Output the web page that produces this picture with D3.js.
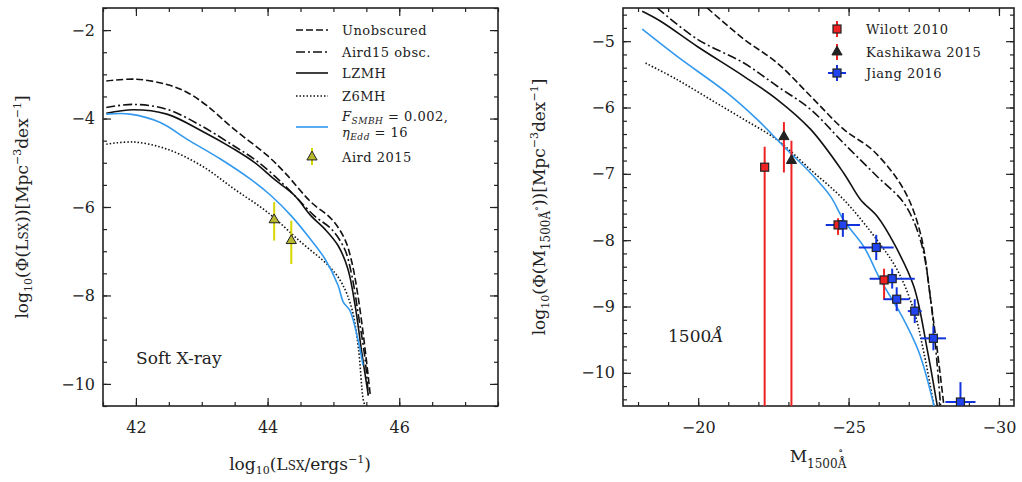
<!DOCTYPE html>
<html>
<head>
<script src="https://d3js.org/d3.v7.min.js"></script>
<style>
  body { margin: 0; background: #fff; }
  text { font-family: "DejaVu Serif", serif; fill: #222; }
  .tick text { font-size: 16px; }
  .leg { font-size: 13px; letter-spacing: 0.5px; }
</style>
</head>
<body>
<svg id="chart" width="1022" height="482"></svg>
<script>
// ---- left panel: soft X-ray LF ----
const sxUnobs = [[41.55,-3.15],[42.0,-3.11],[42.47,-3.23],[42.78,-3.41],[43.08,-3.71],[43.49,-4.24],[44.0,-4.84],[44.26,-5.22],[44.66,-5.89],[44.97,-6.27],[45.17,-6.72],[45.28,-7.25],[45.38,-8.08],[45.48,-9.2],[45.56,-10.26]];
const sxAird = [[41.55,-3.75],[41.96,-3.68],[42.47,-3.79],[43.0,-4.17],[43.49,-4.62],[43.8,-4.92],[44.1,-5.29],[44.41,-5.74],[44.71,-6.2],[44.97,-6.5],[45.17,-6.95],[45.28,-7.55],[45.38,-8.45],[45.48,-9.43],[45.53,-10.26]];
const sxLZMH = [[41.55,-3.88],[41.96,-3.8],[42.47,-3.9],[43.0,-4.28],[43.49,-4.69],[43.8,-4.99],[44.1,-5.37],[44.41,-5.74],[44.66,-6.2],[44.87,-6.5],[45.07,-6.87],[45.22,-7.4],[45.33,-8.23],[45.43,-9.28],[45.53,-10.26]];
const sxZ6MH = [[41.55,-4.58],[41.96,-4.53],[42.47,-4.69],[43.0,-5.07],[43.49,-5.59],[44.0,-6.12],[44.51,-6.8],[44.92,-7.32],[45.12,-7.7],[45.28,-8.3],[45.38,-9.2],[45.45,-10.33],[45.48,-10.5]];
const sxBlue = [[41.55,-3.9],[41.91,-3.9],[42.37,-4.09],[42.78,-4.47],[43.29,-4.92],[43.74,-5.37],[44.05,-5.74],[44.36,-6.2],[44.61,-6.65],[44.87,-7.17],[45.07,-7.77],[45.15,-8.15],[45.25,-8.34],[45.38,-9.05],[45.45,-9.58]];
// Aird 2015 points: x, y, yLow, yHigh
const aird15 = [[44.1,-6.29,-6.76,-5.89],[44.36,-6.76,-7.29,-6.31]];

// ---- right panel: 1500A LF ----
const uvUnobs = [[-20.3,-4.5],[-21.52,-4.97],[-22.63,-5.33],[-23.74,-5.83],[-24.84,-6.33],[-25.84,-6.66],[-26.84,-7.24],[-27.39,-7.9],[-27.73,-8.9],[-27.95,-9.66],[-28.17,-10.5]];
const uvAird = [[-18.64,-4.5],[-19.97,-4.97],[-21.52,-5.33],[-22.63,-5.68],[-23.74,-6.03],[-24.84,-6.54],[-25.95,-7.04],[-26.84,-7.44],[-27.39,-8.0],[-27.73,-8.9],[-28.06,-10.5]];
const uvLZMH = [[-18.14,-4.55],[-18.75,-4.7],[-19.97,-5.08],[-21.52,-5.53],[-22.63,-5.88],[-23.74,-6.33],[-24.84,-6.99],[-25.4,-7.39],[-25.95,-7.64],[-26.51,-8.05],[-27.17,-8.7],[-27.62,-9.66],[-27.95,-10.5]];
const uvZ6MH = [[-18.25,-5.33],[-19.3,-5.58],[-20.41,-5.88],[-21.52,-6.18],[-22.63,-6.49],[-23.74,-6.94],[-24.84,-7.39],[-25.95,-8.0],[-26.62,-8.45],[-27.17,-9.06],[-27.51,-9.71],[-27.84,-10.5]];
const uvBlue = [[-18.14,-4.82],[-19.3,-5.23],[-20.96,-5.78],[-21.96,-6.18],[-22.85,-6.59],[-23.74,-6.99],[-24.4,-7.34],[-24.84,-7.7],[-25.51,-8.1],[-26.06,-8.6],[-26.73,-9.11],[-27.34,-9.69],[-27.84,-10.5]];
// x, y, yLow, yHigh
const willott = [[-22.21,-6.9,-11,-6.59],[-24.65,-7.77,-7.92,-7.67],[-26.18,-8.6,-8.9,-8.43]];
const kashikawa = [[-22.85,-6.44,-6.98,-6.22],[-23.1,-6.8,-11,-6.5]];
// x, y, xErr, yLow, yHigh
const jiang = [[-24.81,-7.77,0.57,-7.95,-7.59],[-25.92,-8.11,0.58,-8.3,-7.92],[-26.45,-8.58,0.75,-8.73,-8.43],[-26.6,-8.89,0.43,-9.07,-8.71],[-27.2,-9.07,0.23,-9.25,-8.89],[-27.82,-9.48,0.42,-9.66,-9.3],[-28.72,-10.44,0.5,-10.6,-10.14]];

const svg = d3.select("#chart");
const blue = "#3399ee";
const styles = {
  unobs: "7,3", aird: "9,3,2,3", lzmh: null, z6mh: "1.5,2"
};

function panel(opt) {
  const x = d3.scaleLinear().domain(opt.xDom).range([opt.left, opt.right]);
  const y = d3.scaleLinear().domain(opt.yDom).range([406, 8]);
  const g = svg.append("g");
  const clipId = "clip" + opt.id;
  svg.append("clipPath").attr("id", clipId).append("rect")
    .attr("x", opt.left).attr("y", 8).attr("width", opt.right - opt.left).attr("height", 398);

  // axes with inward ticks
  const h = 398, w = opt.right - opt.left;
  function addX(transY, dir, labels) {
    const ax = d3.axisBottom(x).tickValues(opt.xTicks).tickSize(-dir * 8).tickPadding(16)
      .tickFormat(labels ? d => d3.format("d")(d).replace("-", "\u2212") : "");
    const mx = d3.axisBottom(x).tickValues(opt.xMinor).tickSize(-dir * 4).tickFormat("");
    g.append("g").attr("transform", `translate(0,${transY})`).call(ax).call(a => a.select(".domain").remove());
    g.append("g").attr("transform", `translate(0,${transY})`).call(mx).call(a => a.select(".domain").remove());
  }
  function addY(transX, dir, labels) {
    const ay = d3.axisLeft(y).tickValues(opt.yTicks).tickSize(-dir * 8).tickPadding(8)
      .tickFormat(labels ? d => d3.format("d")(d).replace("-", "\u2212") : "");
    const my = d3.axisLeft(y).tickValues(opt.yMinor).tickSize(-dir * 4).tickFormat("");
    g.append("g").attr("transform", `translate(${transX},0)`).call(ay).call(a => a.select(".domain").remove());
    g.append("g").attr("transform", `translate(${transX},0)`).call(my).call(a => a.select(".domain").remove());
  }
  addX(406, 1, true); addX(8, -1, false);
  addY(opt.left, 1, true); addY(opt.right, -1, false);
  g.selectAll(".tick line").attr("stroke", "#222").attr("stroke-width", 1.2);
  g.selectAll(".tick text").attr("fill", "#222");
  g.append("rect").attr("x", opt.left).attr("y", 8).attr("width", w).attr("height", h)
    .attr("fill", "none").attr("stroke", "#222").attr("stroke-width", 1.6);

  const lines = svg.append("g").attr("clip-path", `url(#${clipId})`);
  opt.curves.forEach(c => {
    lines.append("path").datum(c.data).attr("d", d3.line().x(d => x(d[0])).y(d => y(d[1])).curve(d3.curveCatmullRom))
      .attr("fill", "none").attr("stroke", c.color || "#111").attr("stroke-width", 1.6)
      .attr("stroke-dasharray", c.dash);
  });
  return { x, y, g, lines };
}

// ---- left ----
const L = panel({
  id: "L", left: 103, right: 498, xDom: [41.5, 47.5], yDom: [-10.5, -1.5],
  xTicks: [42, 44, 46], xMinor: d3.range(41.5, 47.51, 0.5),
  yTicks: [-10, -8, -6, -4, -2], yMinor: d3.range(-10.5, -1.49, 0.5),
  curves: [
    { data: sxUnobs, dash: styles.unobs }, { data: sxAird, dash: styles.aird },
    { data: sxLZMH, dash: null }, { data: sxZ6MH, dash: styles.z6mh },
    { data: sxBlue, dash: null, color: blue }
  ]
});
function triangle(sel, cx, cy, fill) {
  sel.append("path").attr("d", d3.symbol(d3.symbolTriangle, 45)())
    .attr("transform", `translate(${cx},${cy})`).attr("fill", fill).attr("stroke", "#222").attr("stroke-width", 1);
}
aird15.forEach(d => {
  L.lines.append("line").attr("x1", L.x(d[0])).attr("x2", L.x(d[0])).attr("y1", L.y(d[2])).attr("y2", L.y(d[3]))
    .attr("stroke", "#d6d600").attr("stroke-width", 2);
  triangle(L.lines, L.x(d[0]), L.y(d[1]), "#b8b830");
});

// left legend
const legL = svg.append("g");
const legRows = [["Unobscured", styles.unobs, 30], ["Aird15 obsc.", styles.aird, 52], ["LZMH", null, 73], ["Z6MH", styles.z6mh, 96]];
legRows.forEach(r => {
  legL.append("line").attr("x1", 296).attr("x2", 328).attr("y1", r[2]).attr("y2", r[2])
    .attr("stroke", "#111").attr("stroke-width", 1.6).attr("stroke-dasharray", r[1]);
  legL.append("text").attr("class", "leg").attr("x", 342).attr("y", r[2] + 5).text(r[0]);
});
legL.append("line").attr("x1", 296).attr("x2", 328).attr("y1", 127).attr("y2", 127).attr("stroke", blue).attr("stroke-width", 1.6);
const t1 = legL.append("text").attr("class", "leg").attr("x", 342).attr("y", 121);
t1.append("tspan").attr("font-style", "italic").text("F");
t1.append("tspan").attr("font-style", "italic").attr("font-size", 9).attr("dy", 3).text("SMBH");
t1.append("tspan").attr("dy", -3).text(" = 0.002,");
const t2 = legL.append("text").attr("class", "leg").attr("x", 342).attr("y", 137);
t2.append("tspan").attr("font-style", "italic").text("η");
t2.append("tspan").attr("font-style", "italic").attr("font-size", 9).attr("dy", 3).text("Edd");
t2.append("tspan").attr("dy", -3).text(" = 16");
legL.append("line").attr("x1", 312).attr("x2", 312).attr("y1", 148).attr("y2", 165).attr("stroke", "#d6d600").attr("stroke-width", 2);
triangle(legL, 312, 157, "#b8b830");
legL.append("text").attr("class", "leg").attr("x", 342).attr("y", 162).text("Aird 2015");

svg.append("text").attr("x", 136).attr("y", 364).attr("font-size", 17).text("Soft X-ray");
const xl = svg.append("text").attr("x", 300).attr("y", 470).attr("text-anchor", "middle").attr("font-size", 17);
xl.append("tspan").text("log");
xl.append("tspan").attr("font-size", 11).attr("dy", 4).text("10");
xl.append("tspan").attr("dy", -4).text("(L");
xl.append("tspan").attr("font-size", 12).text("SX");
xl.append("tspan").text("/ergs");
xl.append("tspan").attr("font-size", 11).attr("dy", -7).text("−1");
xl.append("tspan").attr("dy", 7).text(")");
const yl = svg.append("text").attr("transform", "translate(28,207) rotate(-90)").attr("text-anchor", "middle").attr("font-size", 17);
yl.append("tspan").text("log");
yl.append("tspan").attr("font-size", 11).attr("dy", 4).text("10");
yl.append("tspan").attr("dy", -4).text("(Φ(L");
yl.append("tspan").attr("font-size", 12).text("SX");
yl.append("tspan").text("))[Mpc");
yl.append("tspan").attr("font-size", 11).attr("dy", -7).text("−3");
yl.append("tspan").attr("dy", 7).text("dex");
yl.append("tspan").attr("font-size", 11).attr("dy", -7).text("−1");
yl.append("tspan").attr("dy", 7).text("]");

// ---- right ----
const R = panel({
  id: "R", left: 623, right: 1014, xDom: [-17.5, -30.5], yDom: [-10.5, -4.5],
  xTicks: [-20, -25, -30], xMinor: d3.range(-18, -30.5, -1),
  yTicks: [-10, -9, -8, -7, -6, -5], yMinor: d3.range(-10.4, -4.5, 0.2),
  curves: [
    { data: uvUnobs, dash: styles.unobs }, { data: uvAird, dash: styles.aird },
    { data: uvLZMH, dash: null }, { data: uvZ6MH, dash: styles.z6mh },
    { data: uvBlue, dash: null, color: blue }
  ]
});
function square(sel, cx, cy, fill) {
  sel.append("rect").attr("x", cx - 4).attr("y", cy - 4).attr("width", 8).attr("height", 8)
    .attr("fill", fill).attr("stroke", "#222").attr("stroke-width", 1.2);
}
function vbar(sel, cx, y1, y2, col) {
  sel.append("line").attr("x1", cx).attr("x2", cx).attr("y1", y1).attr("y2", y2).attr("stroke", col).attr("stroke-width", 2);
}
willott.forEach(d => { vbar(R.lines, R.x(d[0]), R.y(d[2]), R.y(d[3]), "#ee2222"); });
kashikawa.forEach(d => { vbar(R.lines, R.x(d[0]), R.y(d[2]), R.y(d[3]), "#ee2222"); });
jiang.forEach(d => {
  vbar(R.lines, R.x(d[0]), R.y(d[3]), R.y(d[4]), "#1133dd");
  R.lines.append("line").attr("x1", R.x(d[0] - d[2])).attr("x2", R.x(d[0] + d[2])).attr("y1", R.y(d[1])).attr("y2", R.y(d[1]))
    .attr("stroke", "#1133dd").attr("stroke-width", 2);
});
willott.forEach(d => square(R.lines, R.x(d[0]), R.y(d[1]), "#ee2222"));
kashikawa.forEach(d => triangle(R.lines, R.x(d[0]), R.y(d[1]), "#222"));
jiang.forEach(d => square(R.lines, R.x(d[0]), R.y(d[1]), "#2244ee"));

const legR = svg.append("g");
vbar(legR, 837, 21, 37, "#ee2222"); square(legR, 837, 29, "#ee2222");
vbar(legR, 837, 44, 60, "#ee2222"); triangle(legR, 837, 52, "#222");
vbar(legR, 837, 65, 81, "#1133dd");
legR.append("line").attr("x1", 828).attr("x2", 846).attr("y1", 73).attr("y2", 73).attr("stroke", "#1133dd").attr("stroke-width", 2);
square(legR, 837, 73, "#2244ee");
[["Wilott 2010", 29], ["Kashikawa 2015", 52], ["Jiang 2016", 73]].forEach(r =>
  legR.append("text").attr("class", "leg").attr("x", 866).attr("y", r[1] + 5).text(r[0]));

const lab = svg.append("text").attr("x", 668).attr("y", 342).attr("font-size", 17);
lab.append("tspan").text("1500");
lab.append("tspan").attr("font-style", "italic").text("Å");
const xr = svg.append("text").attr("x", 818).attr("y", 462).attr("text-anchor", "middle").attr("font-size", 17);
xr.append("tspan").text("M");
xr.append("tspan").attr("font-size", 12).attr("dy", 6).text("1500Å");
xr.append("tspan").attr("font-size", 10).attr("dx", -8).attr("dy", -14).text("∘");
const yr = svg.append("text").attr("transform", "translate(545,207) rotate(-90)").attr("text-anchor", "middle").attr("font-size", 17);
yr.append("tspan").text("log");
yr.append("tspan").attr("font-size", 11).attr("dy", 4).text("10");
yr.append("tspan").attr("dy", -4).text("(Φ(M");
yr.append("tspan").attr("font-size", 12).attr("dy", 5).text("1500Å");
yr.append("tspan").attr("font-size", 10).attr("dy", -10).text("∘");
yr.append("tspan").attr("dy", 5).text("))[Mpc");
yr.append("tspan").attr("font-size", 11).attr("dy", -7).text("−3");
yr.append("tspan").attr("dy", 7).text("dex");
yr.append("tspan").attr("font-size", 11).attr("dy", -7).text("−1");
yr.append("tspan").attr("dy", 7).text("]");
</script>
</body>
</html>
